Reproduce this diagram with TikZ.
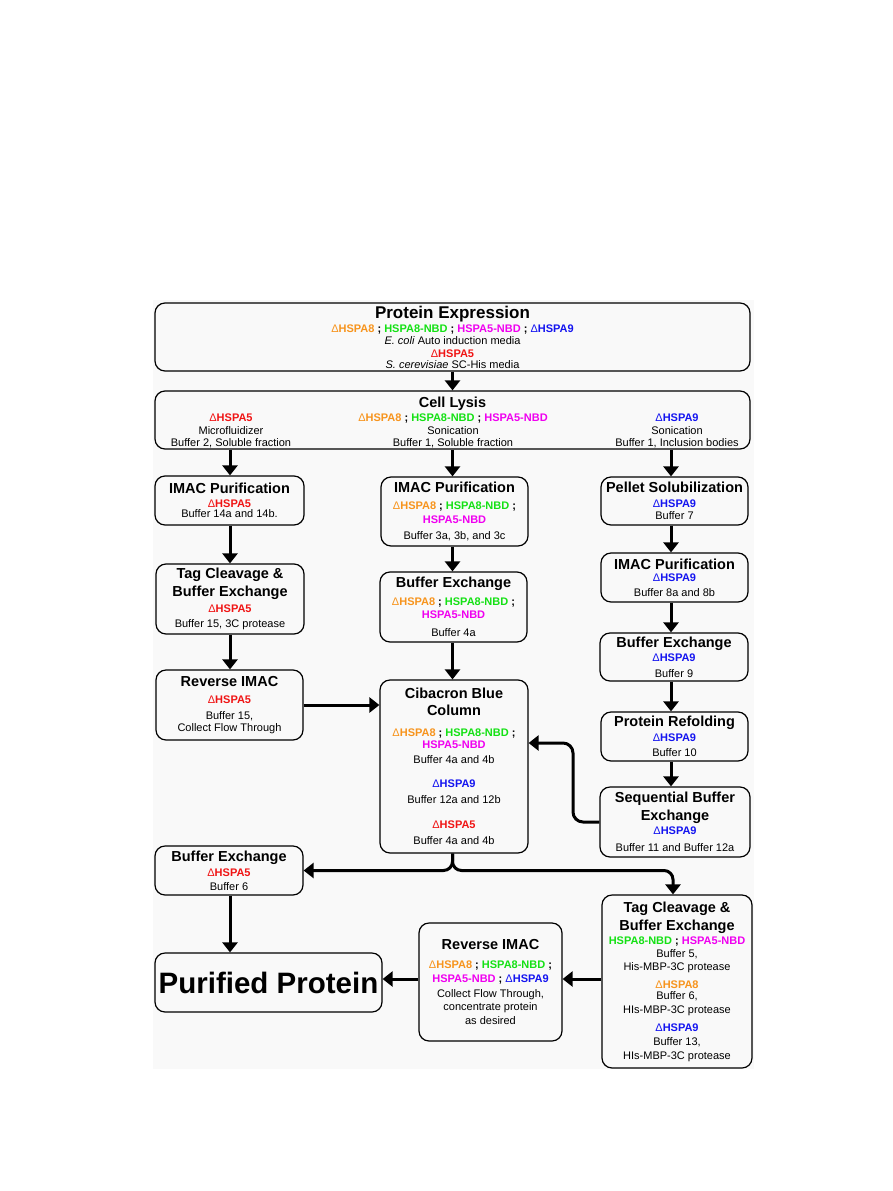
\documentclass[tikz,border=0pt]{standalone}
\usepackage{fontspec}
\setmainfont{Liberation Sans}
\usetikzlibrary{arrows.meta,calc}
\definecolor{cOr}{RGB}{247,148,29}
\definecolor{cGr}{RGB}{20,225,20}
\definecolor{cMa}{RGB}{240,0,240}
\definecolor{cBl}{RGB}{20,20,240}
\definecolor{cRd}{RGB}{240,20,20}
\definecolor{bgc}{RGB}{249,249,249}
\newcommand{\lblA}{\textcolor{cOr}{Δ\textbf{HSPA8}}}
\newcommand{\lblB}{\textcolor{cGr}{\textbf{HSPA8-NBD}}}
\newcommand{\lblC}{\textcolor{cMa}{\textbf{HSPA5-NBD}}}
\newcommand{\lblD}{\textcolor{cBl}{Δ\textbf{HSPA9}}}
\newcommand{\lblE}{\textcolor{cRd}{Δ\textbf{HSPA5}}}
\newcommand{\lsemi}{\textbf{ ; }}
\newcommand{\boxtitle}[1]{{\fontsize{14.5}{17}\selectfont\bfseries #1}}
\newcommand{\nodefnt}{\fontsize{11}{13}\selectfont\lineskiplimit=-100pt\relax}
\begin{document}
\begin{tikzpicture}[x=1pt,y=-1pt,
  box/.style={draw, line width=1.2pt, rounded corners=10pt, align=center, inner sep=0pt,
    font=\nodefnt},
  coltext/.style={align=center, inner sep=0pt, font=\nodefnt},
  arr/.style={line width=3pt, -{Triangle[length=10pt,width=15pt]}}]
\useasboundingbox (0,0) rectangle (893,1191);
\fill[bgc] (153,300) rectangle (754,1069);

\coordinate (lx) at (230,0);
\coordinate (rx) at (671,0);
\coordinate (by) at (0,979);
\coordinate (fb) at (573,743);
\coordinate (tx) at (673,870.5);

\node[box, minimum width=595pt, minimum height=68pt] (PE) at (452.5,337) {%
{\fontsize{17}{20}\selectfont\bfseries Protein Expression}\\[1pt]
\lblA\lsemi\lblB\lsemi\lblC\lsemi\lblD\\[-1pt]
\textit{E. coli} Auto induction media\\
\lblE\\[-2pt]
\textit{S. cerevisiae} SC-His media};

\node[box, minimum width=595pt, minimum height=58pt] (CL) at (452.5,420) {};
\node[anchor=base, inner sep=0pt] (CLt) at (452.5,407.2) {\boxtitle{Cell Lysis}};
\node[coltext, anchor=north] (CLl) at (231,414) {\lblE\\Microfluidizer\\[-1pt]Buffer 2, Soluble fraction};
\node[coltext, anchor=north] (CLm) at (453,414) {\lblA\lsemi\lblB\lsemi\lblC\\Sonication\\[-1pt]Buffer 1, Soluble fraction};
\node[coltext, anchor=north] (CLr) at (677,414) {\lblD\\Sonication\\[-1pt]Buffer 1, Inclusion bodies};

\node[box, minimum width=149pt, minimum height=49pt] (IMACL) at (229.5,500.5) {%
\boxtitle{IMAC Purification}\\[0.8pt]\lblE\\[-3pt]Buffer 14a and 14b.};
\node[box, minimum width=148pt, minimum height=70pt] (TagL) at (230,599) {%
\boxtitle{Tag Cleavage \&}\\[5pt]\boxtitle{Buffer Exchange}\\[2.8pt]\lblE\\[2pt]Buffer 15, 3C protease};
\node[box, minimum width=147pt, minimum height=70pt] (RevL) at (229.5,705) {%
\boxtitle{Reverse IMAC}\\[3.8pt]\lblE\\[3pt]Buffer 15,\\[-1pt]Collect Flow Through};

\node[box, minimum width=147pt, minimum height=69pt] (IMACM) at (454.5,511.5) {%
\boxtitle{IMAC Purification}\\[3.8pt]\lblA\lsemi\lblB\lsemi\\[1pt]\lblC\\[3pt]Buffer 3a, 3b, and 3c};
\node[box, minimum width=147pt, minimum height=70pt] (BEM) at (453.5,607) {%
\boxtitle{Buffer Exchange}\\[4.8pt]\lblA\lsemi\lblB\lsemi\\\lblC\\[5pt]Buffer 4a};
\node[box, minimum width=148pt, minimum height=173pt] (CB) at (454,766.5) {%
\boxtitle{Cibacron Blue}\\[4pt]\boxtitle{Column}\\[7.8pt]\lblA\lsemi\lblB\lsemi\\[-1pt]\lblC\\[2pt]Buffer 4a and 4b\\[11pt]\lblD\\[3pt]Buffer 12a and 12b\\[12pt]\lblE\\[3pt]Buffer 4a and 4b};

\node[box, minimum width=147pt, minimum height=48pt] (PS) at (674.5,501) {%
\boxtitle{Pellet Solubilization}\\[1.8pt]\lblD\\[-1pt]Buffer 7};
\node[box, minimum width=147pt, minimum height=49pt] (IMACR) at (674.5,577.5) {%
\boxtitle{IMAC Purification}\\[-1.2pt]\lblD\\[2pt]Buffer 8a and 8b};
\node[box, minimum width=148pt, minimum height=48pt] (BER) at (674,657) {%
\boxtitle{Buffer Exchange}\\[0.8pt]\lblD\\[3pt]Buffer 9};
\node[box, minimum width=147pt, minimum height=49pt] (PR) at (674.5,736.5) {%
\boxtitle{Protein Refolding}\\[1.8pt]\lblD\\[2pt]Buffer 10};
\node[box, minimum width=150pt, minimum height=70pt] (SBE) at (675,822) {%
\boxtitle{Sequential Buffer}\\[5pt]\boxtitle{Exchange}\\[0.8pt]\lblD\\[4pt]Buffer 11 and Buffer 12a};

\node[box, minimum width=148pt, minimum height=49pt] (BEL) at (229,870.5) {%
\boxtitle{Buffer Exchange}\\[1.8pt]\lblE\\[1pt]Buffer 6};
\node[box, minimum width=227pt, minimum height=59pt] (PP) at (268.5,982.5) {%
{\fontsize{29.5}{34}\selectfont\bfseries Purified Protein}};
\node[box, minimum width=143pt, minimum height=118pt] (RevB) at (490.5,982) {%
\boxtitle{Reverse IMAC}\\[6.8pt]\lblA\lsemi\lblB\lsemi\\[1pt]\lblC\lsemi\lblD\\[2pt]Collect Flow Through,\\concentrate protein\\[1pt]as desired};
\node[box, minimum width=150pt, minimum height=173pt] (TagB) at (677,981.5) {%
\boxtitle{Tag Cleavage \&}\\[5pt]\boxtitle{Buffer Exchange}\\[0.8pt]\lblB\lsemi\lblC\\Buffer 5,\\His-MBP-3C protease\\[5pt]\lblA\\[-2pt]Buffer 6,\\[1pt]HIs-MBP-3C protease\\[5pt]\lblD\\[1pt]Buffer 13,\\[1pt]HIs-MBP-3C protease};

% connectors
\draw[arr] (PE.south) -- (CL.north);
\draw[arr] (CL.south -| lx) -- (IMACL.north -| lx);
\draw[arr] (CL.south) -- (IMACM.north -| CL.south);
\draw[arr] (CL.south -| rx) -- (PS.north -| rx);
\draw[arr] (IMACL.south -| lx) -- (TagL.north -| lx);
\draw[arr] (TagL.south -| lx) -- (RevL.north -| lx);
\draw[arr] (RevL.east) -- (CB.west |- RevL.east);
\draw[arr] (IMACM.south -| CL.south) -- (BEM.north -| CL.south);
\draw[arr] (BEM.south -| CL.south) -- (CB.north -| CL.south);
\draw[arr] (PS.south -| rx) -- (IMACR.north -| rx);
\draw[arr] (IMACR.south -| rx) -- (BER.north -| rx);
\draw[arr] (BER.south -| rx) -- (PR.north -| rx);
\draw[arr] (PR.south -| rx) -- (SBE.north -| rx);
\draw[arr, rounded corners=10pt] (SBE.west) -| (fb) -- (CB.east |- fb);
\draw[arr, rounded corners=9pt] (CB.south -| CL.south) |- (BEL.east);
\draw[arr, rounded corners=9pt] (CB.south -| CL.south) |- (tx) -- (TagB.north -| tx);
\draw[arr] (BEL.south -| lx) -- (PP.north -| lx);
\draw[arr] (TagB.west |- by) -- (RevB.east |- by);
\draw[arr] (RevB.west |- by) -- (PP.east |- by);
\end{tikzpicture}
\end{document}
